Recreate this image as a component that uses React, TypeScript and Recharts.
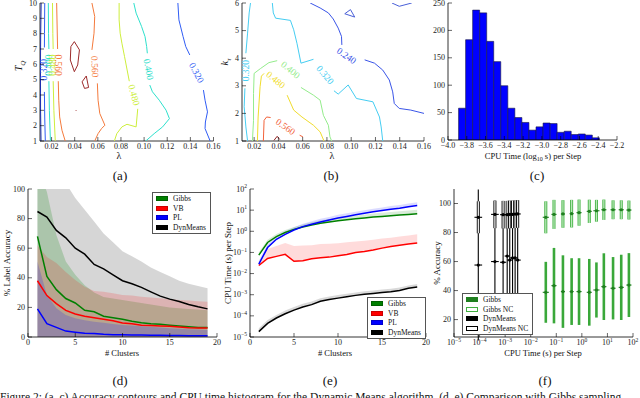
import React from "react";
import { ScatterChart, Scatter, ComposedChart, Area, Line, Bar, XAxis, YAxis, ErrorBar } from "recharts";

const FONT = "'Liberation Serif', 'Times New Roman', serif";
const INK = "#222";
const TICK_FS = 8;
const TM = 2;
const PAD = { l: 44, t: 6, r: 10, b: 22 };

// ---------- (a) accuracy contours, lambda vs T_Q ----------
const A_X_TICKS = [0.02, 0.04, 0.06, 0.08, 0.1, 0.12, 0.14, 0.16];
const A_Y_TICKS = [1, 2, 3, 4, 5, 6, 7, 8, 9, 10];
const A_DB = [[0.011, 10], [0.0106, 8], [0.0104, 6], [0.0105, 3], [0.0109, 1]];
const A_B_L1 = [[0.0141, 10], [0.0139, 8], [0.0138, 7.1]];
const A_B_L2 = [[0.0138, 4.2], [0.0141, 2.5], [0.0146, 1]];
const A_CY_L1 = [[0.0172, 10], [0.0174, 8], [0.0177, 7.0]];
const A_CY_L2 = [[0.0177, 4.9], [0.0181, 3], [0.019, 1]];
const A_YG_L1 = [[0.0208, 10], [0.0211, 8], [0.0214, 7.0]];
const A_YG_L2 = [[0.0214, 4.9], [0.022, 3], [0.0232, 1]];
const A_OR_L1 = [[0.0244, 10], [0.0248, 8.5], [0.0252, 7.0]];
const A_OR_L2 = [[0.0258, 4.9], [0.0262, 3.66], [0.027, 2.57], [0.029, 1.7], [0.0318, 1]];
const A_OR_R1 = [[0.0549, 10], [0.0573, 9.12], [0.0567, 8.03], [0.0549, 6.94]];
const A_OR_R2 = [[0.0596, 4.76], [0.0602, 3.66], [0.0617, 2.79], [0.0661, 2.03], [0.0632, 1.81], [0.0602, 1.48], [0.0573, 1]];
const A_YG_R1 = [[0.0784, 10], [0.0784, 8.9], [0.0793, 8.03], [0.0808, 7.38], [0.0831, 6.5], [0.0872, 4.9]];
const A_YG_R2 = [[0.0945, 3.1], [0.0931, 1.92], [0.0852, 2.09], [0.0808, 1.92], [0.0764, 1.48], [0.0743, 1]];
const A_CY_R1 = [[0.0911, 10], [0.0931, 9.34], [0.0978, 8.47], [0.1008, 7.81], [0.1022, 7.16], [0.1028, 6.72]];
const A_CY_R2 = [[0.1049, 4.65], [0.1072, 4.21], [0.1131, 3.66], [0.119, 3.01], [0.1219, 2.46], [0.116, 1.92], [0.1087, 1.48], [0.1014, 1]];
const A_B_R1 = [[0.1292, 10], [0.1301, 8.9], [0.1337, 7.81], [0.136, 7.16], [0.1395, 6.61]];
const A_B_R2 = [[0.1513, 4.32], [0.1527, 3.66], [0.1548, 2.9], [0.153, 2.24], [0.1527, 1.81], [0.1571, 1]];
const A_DR1 = [[0.0397, 7.48], [0.0441, 6.94], [0.0426, 5.96], [0.0397, 5.52], [0.0362, 6.28], [0.0367, 7.16], [0.0397, 7.48]];
const A_DR2 = [[0.05, 5.24], [0.052, 4.49], [0.0485, 4.43], [0.0464, 4.86], [0.05, 5.24]];
const A_DR3 = [[0.0408, 3.02], [0.0414, 2.97]];
const A_LABELS = [
  { x: 0.0138, y: 5.65, t: "0.320" },
  { x: 0.0177, y: 5.95, t: "0.400" },
  { x: 0.0214, y: 5.95, t: "0.480" },
  { x: 0.0255, y: 5.95, t: "0.560" },
  { x: 0.0573, y: 5.85, t: "0.560" },
  { x: 0.0911, y: 4.0, t: "0.480" },
  { x: 0.1037, y: 5.67, t: "0.400" },
  { x: 0.1452, y: 5.45, t: "0.320" },
];

const CA = { db: "#1d2fb0", b: "#2f5cf4", cy: "#2ee0cc", yg: "#cdee3c", or: "#f47a3c", dr: "#9c2b2b" };
const A_SEGMENTS: [number[][], string][] = [
  [A_DB, CA.db], [A_B_L1, CA.b], [A_B_L2, CA.b], [A_CY_L1, CA.cy], [A_CY_L2, CA.cy],
  [A_YG_L1, CA.yg], [A_YG_L2, CA.yg], [A_OR_L1, CA.or], [A_OR_L2, CA.or],
  [A_OR_R1, CA.or], [A_OR_R2, CA.or], [A_YG_R1, CA.yg], [A_YG_R2, CA.yg],
  [A_CY_R1, CA.cy], [A_CY_R2, CA.cy], [A_B_R1, CA.b], [A_B_R2, CA.b],
  [A_DR1, CA.dr], [A_DR2, CA.dr], [A_DR3, CA.dr],
];
const A_LABEL_STYLE: [number, string][] = [
  [-90, CA.b], [-90, CA.cy], [-90, CA.yg], [90, CA.or], [88, CA.or], [75, CA.yg], [80, CA.cy], [62, CA.b],
];

// ---------- (b) accuracy contours, lambda vs k_tau ----------
const B_Y_TICKS = [1, 2, 3, 4, 5, 6];
const B_DB1 = [[0.1336, 6], [0.1396, 5.88], [0.1499, 6]];
const B_DB2 = [[0.0947, 5.61], [0.0994, 5.76], [0.1029, 5.49], [0.0947, 5.61]];
const B_B1 = [[0.0662, 6], [0.0744, 5.82], [0.0812, 5.64], [0.0852, 5.42], [0.0893, 5.09], [0.092, 4.79], [0.0923, 4.48]];
const B_B2 = [[0.1111, 3.94], [0.1192, 3.82], [0.126, 3.57], [0.1314, 3.21], [0.1342, 2.78], [0.1355, 2.36], [0.1396, 2.18], [0.1491, 2.12], [0.16, 2.0]];
const B_CYL1 = [[0.017, 6], [0.0159, 5.64], [0.0146, 4.91], [0.0132, 4.18]];
const B_CYL2 = [[0.0124, 2.91], [0.0118, 2.24], [0.0132, 1.51], [0.0146, 1]];
const B_CYR1 = [[0.035, 6], [0.0358, 5.64], [0.0377, 5.45], [0.0499, 5.37], [0.0526, 5.03], [0.0553, 4.54], [0.0586, 3.82], [0.0689, 3.96]];
const B_CYR2 = [[0.0858, 2.82], [0.0893, 2.7], [0.0975, 3.03], [0.1043, 2.54], [0.1179, 2.42], [0.1233, 1.87], [0.1247, 1.51], [0.126, 1]];
const B_G1 = [[0.0186, 1], [0.0195, 1.75], [0.0195, 2.72], [0.02, 3.45], [0.0254, 3.63], [0.0322, 3.84], [0.039, 3.91]];
const B_G2 = [[0.0586, 2.94], [0.0689, 2.66], [0.0744, 2.48], [0.0771, 1.93], [0.0812, 1.57], [0.0825, 1.15], [0.0839, 1]];
const B_Y1 = [[0.0227, 1], [0.0233, 1.87], [0.0249, 2.97], [0.026, 3.35], [0.0282, 3.45]];
const B_Y2 = [[0.0472, 2.66], [0.0526, 2.12], [0.0594, 1.87], [0.0689, 1.57], [0.0744, 1.33], [0.0776, 1]];
const B_OR1 = [[0.0276, 1], [0.0282, 1.75], [0.0303, 1.87], [0.0336, 1.85]];
const B_OR2 = [[0.0575, 1.21], [0.0602, 1.15]];
const B_DR = [[0.0363, 1.02], [0.039, 1.17], [0.0412, 1.05]];
const B_LABELS = [
  { x: 0.0961, y: 4.08, t: "0.240" },
  { x: 0.0132, y: 3.55, t: "0.320" },
  { x: 0.0784, y: 3.39, t: "0.320" },
  { x: 0.0499, y: 3.57, t: "0.400" },
  { x: 0.0377, y: 3.21, t: "0.480" },
  { x: 0.0458, y: 1.51, t: "0.560" },
];

const CB = { db: "#4a60d8", b: "#3a55e8", cy: "#45cdf2", g: "#94ec8c", y: "#f0dc2c", or: "#f2623a", dr: "#962626" };
const B_SEGMENTS: [number[][], string][] = [
  [B_DB1, CB.db], [B_DB2, CB.db], [B_B1, CB.b], [B_B2, CB.b], [B_CYL1, CB.cy], [B_CYL2, CB.cy],
  [B_CYR1, CB.cy], [B_CYR2, CB.cy], [B_G1, CB.g], [B_G2, CB.g], [B_Y1, CB.y], [B_Y2, CB.y],
  [B_OR1, CB.or], [B_OR2, CB.or], [B_DR, CB.dr],
];
const B_LABEL_STYLE: [number, string][] = [
  [35, CB.b], [-90, CB.cy], [50, CB.cy], [40, CB.g], [40, CB.y], [35, CB.or],
];

// ---------- (c) histogram of CPU time ----------
const C_X_TICKS = [-4.0, -3.8, -3.6, -3.4, -3.2, -3.0, -2.8, -2.6, -2.4, -2.2];
const C_Y_TICKS = [0, 50, 100, 150, 200, 250];
const C_BINS = [-3.85, -3.775, -3.7, -3.625, -3.55, -3.475, -3.4, -3.325, -3.25, -3.175, -3.1, -3.025, -2.95, -2.875, -2.8, -2.725, -2.65, -2.575, -2.5, -2.425];
const C_COUNTS = [58, 183, 237, 232, 180, 143, 99, 58, 41, 32, 18, 24, 31, 30, 14, 16, 10, 11, 9, 4];

// ---------- (d) label accuracy vs # clusters ----------
const D_X = [1, 2, 3, 4, 5, 6, 7, 8, 9, 10, 11, 12, 13, 14, 15, 16, 17, 18, 19];
const D_X_TICKS = [0, 5, 10, 15, 20];
const D_Y_TICKS = [0, 20, 40, 60, 80, 100];
const D_GIBBS = [68, 41, 32, 26, 23, 18, 17, 14, 13, 12, 10.6, 9.7, 9, 8.6, 8, 7.5, 7, 6.5, 6.5];
const D_VB = [38, 28, 22.6, 18, 15.5, 14, 13, 12, 11, 9.5, 9, 8, 7.7, 7.5, 7.2, 6.8, 6.3, 6, 6];
const D_PL = [19, 9, 6.5, 4, 3.2, 2.5, 2.3, 1.8, 1.6, 1.5, 1.4, 1.3, 1.2, 1.1, 1.0, 1.0, 0.9, 0.9, 0.8];
const D_DYN = [84.8, 81, 72, 67, 60, 56, 49, 46, 42, 38, 36, 33.5, 30.5, 27.6, 25.6, 24, 22, 20.4, 19];
const D_GIBBS_HI = [115, 98, 69, 51, 42, 35, 30, 27, 26, 25, 24, 23, 22, 21, 20, 19.5, 19, 18.5, 18];
const D_VB_HI = [62, 54, 50, 44, 38.5, 34, 31, 30.5, 29.5, 28.4, 28, 27.2, 26.7, 26.1, 25.6, 25, 24.6, 24.2, 23.9];
const D_PL_HI = [51, 28.4, 19.4, 14.9, 12.6, 11.3, 10.3, 9.6, 8.8, 8.1, 7.7, 7.3, 6.9, 6.5, 5.9, 5.6, 5.3, 5.0, 4.7];
const D_DYN_HI = [115, 112, 108, 104, 94, 86, 78, 70, 64, 58, 54.5, 51, 47, 44, 41, 38, 36, 34.5, 33];

// ---------- (e) CPU time vs # clusters ----------
const E_Y_TICKS = [1e-5, 1e-4, 1e-3, 1e-2, 1e-1, 1, 10, 100];
const E_GIBBS = [0.075, 0.295, 0.56, 0.87, 1.23, 1.58, 2.0, 2.37, 2.75, 3.16, 3.55, 3.89, 4.27, 4.68, 5.0, 5.37, 5.89, 6.3, 6.76];
const E_GIBBS_HI = [0.1, 0.4, 0.75, 1.15, 1.6, 2.1, 2.7, 3.2, 3.8, 4.4, 5.0, 5.6, 6.2, 6.9, 7.5, 8.1, 8.9, 9.6, 10.3];
const E_PL = [0.028, 0.17, 0.42, 0.72, 1.15, 1.66, 2.14, 2.75, 3.39, 4.22, 5.0, 6.03, 7.08, 8.3, 9.5, 11.0, 12.3, 14.5, 16.6];
const E_PL_HI = [0.04, 0.25, 0.6, 1.0, 1.55, 2.3, 3.0, 3.9, 4.8, 6.0, 7.1, 8.5, 10.0, 11.7, 13.4, 15.5, 17.5, 20.5, 23.5];
const E_VB = [0.024, 0.052, 0.065, 0.081, 0.038, 0.04, 0.05, 0.056, 0.06, 0.069, 0.079, 0.1, 0.11, 0.13, 0.16, 0.19, 0.22, 0.25, 0.28];
const E_VB_HI = [0.034, 0.145, 0.2, 0.28, 0.2, 0.21, 0.22, 0.25, 0.26, 0.275, 0.3, 0.33, 0.36, 0.4, 0.46, 0.5, 0.56, 0.63, 0.72];
const E_DYN = [1.8e-5, 4.4e-5, 7.9e-5, 1.26e-4, 1.86e-4, 2.63e-4, 3.39e-4, 4.9e-4, 5.9e-4, 6.9e-4, 8.1e-4, 9.3e-4, 1.05e-3, 1.15e-3, 1.26e-3, 1.38e-3, 1.58e-3, 2.0e-3, 2.3e-3];
const E_DYN_HI = [2.6e-5, 6.3e-5, 1.1e-4, 1.8e-4, 2.6e-4, 3.7e-4, 4.8e-4, 6.8e-4, 8.2e-4, 9.6e-4, 1.12e-3, 1.29e-3, 1.45e-3, 1.6e-3, 1.75e-3, 1.92e-3, 2.2e-3, 2.75e-3, 3.2e-3];

// ---------- (f) accuracy vs CPU time (log10 s) ----------
const F_X_TICKS = [-5, -4, -3, -2, -1, 0, 1, 2];
const F_Y_TICKS = [20, 40, 60, 80, 100];
const F_GIBBS_X = [-1.41, -1.09, -0.74, -0.4, -0.11, 0.29, 0.57, 0.86, 1.22, 1.54, 1.84];
const F_GIBBS_XERR = [0.12, 0.1, 0.08, 0.08, 0.1, 0.1, 0.12, 0.1, 0.1, 0.1, 0.1];
const F_GIBBS_Y = [38.8, 43.4, 39.3, 39.3, 39.3, 38.8, 40.4, 42.7, 41.6, 42.2, 43.8];
const F_GIBBS_ERR = [21, 26, 25, 23, 23, 23, 19, 23, 21.5, 22.5, 22];
const F_GIBBS_NC_Y = [90.5, 92.5, 92.8, 93.0, 93.7, 94.6, 95.0, 95.7, 95.7, 95.7, 95.5];
const F_GIBBS_NC_ERR = [11, 10, 9.5, 9.5, 9, 8, 7.5, 7, 6.5, 6.5, 6.5];
const F_DYN_X = [-4.05, -3.4, -3.08, -2.92, -2.82, -2.71, -2.61, -2.51];
const F_DYN_XERR = [0.15, 0.15, 0.12, 0.1, 0.1, 0.1, 0.1, 0.12];
const F_DYN_Y = [57.6, 60.0, 59.5, 63.8, 61.0, 62.5, 62.5, 61.0];
const F_DYN_ERR = [52, 42, 42, 38, 40, 38, 38, 40];
const F_DYN_NC_Y = [90.5, 92.5, 92.3, 92.3, 92.5, 92.5, 92.7, 92.8];
const F_DYN_NC_ERR = [11, 9.5, 9.5, 9.5, 9.5, 9.5, 9.5, 9.5];

const RECT_A = { x0: 39.5, y0: 3, x1: 213, y1: 141 };
const RECT_B = { x0: 242, y0: 3, x1: 424, y1: 141 };
const RECT_C = { x0: 448, y0: 3, x1: 617, y1: 140 };
const RECT_D = { x0: 27.5, y0: 189, x1: 216.5, y1: 337 };
const RECT_E = { x0: 250, y0: 189, x1: 426, y1: 337 };
const RECT_F = { x0: 454, y0: 189, x1: 633, y1: 337 };

type Rect = { x0: number; y0: number; x1: number; y1: number };
type AxisCfg = { domain: [number, number]; ticks: number[]; scale?: "log" | "linear"; fmt: (v: number) => React.ReactNode; key?: string };

function frame(r: Rect) {
  return {
    style: { position: "absolute" as const, left: r.x0 - PAD.l, top: r.y0 - PAD.t },
    width: r.x1 - r.x0 + PAD.l + PAD.r,
    height: r.y1 - r.y0 + PAD.t + PAD.b,
    margin: { top: PAD.t, right: PAD.r, bottom: 0, left: 0 },
  };
}

const minus = (s: string) => s.replace("-", "\u2212");
const pow10 = (e: number) => (
  <>
    10<tspan dy={-3.3} fontSize={5.6}>{minus(String(e))}</tspan>
  </>
);

const bottomTick = (fmt: AxisCfg["fmt"]) => (p: any) => (
  <g>
    <line x1={p.x} x2={p.x} y1={p.y - TM} y2={p.y - TM - 4} stroke="#000" strokeWidth={0.6} />
    <text x={p.x} y={p.y} dy="0.78em" textAnchor="middle" fontSize={TICK_FS} fontFamily={FONT} fill={INK}>
      {fmt(p.payload.value)}
    </text>
  </g>
);
const leftTick = (fmt: AxisCfg["fmt"]) => (p: any) => (
  <g>
    <line x1={p.x + TM} x2={p.x + TM + 4} y1={p.y} y2={p.y} stroke="#000" strokeWidth={0.6} />
    <text x={p.x - 1} y={p.y} dy="0.33em" textAnchor="end" fontSize={TICK_FS} fontFamily={FONT} fill={INK}>
      {fmt(p.payload.value)}
    </text>
  </g>
);
const topTick = (p: any) => <line x1={p.x} x2={p.x} y1={p.y} y2={p.y + 4} stroke="#000" strokeWidth={0.6} />;
const rightTick = (p: any) => <line x1={p.x} x2={p.x - 4} y1={p.y} y2={p.y} stroke="#000" strokeWidth={0.6} />;

function frameAxes(xc: AxisCfg, yc: AxisCfg) {
  const common = {
    allowDataOverflow: true,
    tickLine: false,
    tickSize: 0,
    interval: 0 as const,
    axisLine: { stroke: "#000", strokeWidth: 0.8 },
  };
  return [
    <XAxis key="xb" dataKey="x" type="number" scale={xc.scale ?? "linear"} domain={xc.domain} ticks={xc.ticks}
      height={PAD.b} tickMargin={TM} tick={bottomTick(xc.fmt)} {...common} />,
    <XAxis key="xt" xAxisId="top" orientation="top" type="number" scale={xc.scale ?? "linear"} domain={xc.domain}
      ticks={xc.ticks} height={0} tickMargin={0} tick={topTick} {...common} />,
    <YAxis key="yl" dataKey={yc.key} type="number" scale={yc.scale ?? "linear"} domain={yc.domain} ticks={yc.ticks}
      width={PAD.l} tickMargin={TM} tick={leftTick(yc.fmt)} {...common} />,
    <YAxis key="yr" yAxisId="right" orientation="right" type="number" scale={yc.scale ?? "linear"} domain={yc.domain}
      ticks={yc.ticks} width={0} tickMargin={0} tick={rightTick} {...common} />,
  ];
}

const noDot = () => <g />;
const labelShape = (p: any) => (
  <text x={p.cx} y={p.cy} transform={`rotate(${p.payload.a} ${p.cx} ${p.cy})`} textAnchor="middle"
    dominantBaseline="central" fontSize={9.5} fontFamily={FONT} fill={p.payload.c}>
    {p.payload.t}
  </text>
);
const toXY = (pts: number[][]) => pts.map(([x, y]) => ({ x, y }));

function ContourPanel({ rect, segs, labels, styles, yTicks }: any) {
  const f = frame(rect);
  const labelData = labels.map((l: any, i: number) => ({ ...l, a: styles[i][0], c: styles[i][1] }));
  return (
    <div style={f.style}>
      <ScatterChart width={f.width} height={f.height} margin={f.margin}>
        {frameAxes(
          { domain: [0.01, 0.16], ticks: A_X_TICKS, fmt: (v) => v.toFixed(2) },
          { domain: [yTicks[0], yTicks[yTicks.length - 1]], ticks: yTicks, fmt: (v) => String(v), key: "y" }
        )}
        {segs.map(([pts, c]: [number[][], string], i: number) => (
          <Scatter key={i} data={toXY(pts)} fill={c} line={{ stroke: c, strokeWidth: 1 }} lineType="joint"
            shape={noDot} isAnimationActive={false} />
        ))}
        <Scatter data={labelData} shape={labelShape} isAnimationActive={false} />
      </ScatterChart>
    </div>
  );
}

function HistPanel() {
  const f = frame(RECT_C);
  const rows = C_BINS.map((x, i) => ({ x, n: C_COUNTS[i] }));
  return (
    <div style={f.style}>
      <ComposedChart width={f.width} height={f.height} margin={f.margin} data={rows} barCategoryGap={0} barGap={0}>
        {frameAxes(
          { domain: [-4.0, -2.2], ticks: C_X_TICKS, fmt: (v) => minus(v.toFixed(1)) },
          { domain: [0, 250], ticks: C_Y_TICKS, fmt: (v) => String(v) }
        )}
        <Bar dataKey="n" fill="#0000ff" stroke="#1a1a40" strokeWidth={0.6} isAnimationActive={false} />
      </ComposedChart>
    </div>
  );
}

function AccuracyPanel() {
  const f = frame(RECT_D);
  const rows = D_X.map((x, i) => ({
    x, gibbs: D_GIBBS[i], vb: D_VB[i], pl: D_PL[i], dyn: D_DYN[i],
    gibbsHi: D_GIBBS_HI[i], vbHi: D_VB_HI[i], plHi: D_PL_HI[i], dynHi: D_DYN_HI[i],
  }));
  return (
    <div style={f.style}>
      <ComposedChart width={f.width} height={f.height} margin={f.margin} data={rows}>
        {frameAxes(
          { domain: [0, 20], ticks: D_X_TICKS, fmt: (v) => String(v) },
          { domain: [0, 100], ticks: D_Y_TICKS, fmt: (v) => String(v) }
        )}
        <Area dataKey="dynHi" stroke="none" fill="#000" fillOpacity={0.16} isAnimationActive={false} />
        <Area dataKey="gibbsHi" stroke="none" fill="#008000" fillOpacity={0.2} isAnimationActive={false} />
        <Area dataKey="vbHi" stroke="none" fill="#ff0000" fillOpacity={0.16} isAnimationActive={false} />
        <Area dataKey="plHi" stroke="none" fill="#0000ff" fillOpacity={0.18} isAnimationActive={false} />
        <Line dataKey="gibbs" stroke="#008000" strokeWidth={1.5} dot={false} isAnimationActive={false} />
        <Line dataKey="vb" stroke="#ff0000" strokeWidth={1.5} dot={false} isAnimationActive={false} />
        <Line dataKey="pl" stroke="#0000ff" strokeWidth={1.5} dot={false} isAnimationActive={false} />
        <Line dataKey="dyn" stroke="#000" strokeWidth={1.5} dot={false} isAnimationActive={false} />
      </ComposedChart>
    </div>
  );
}

function TimePanel() {
  const f = frame(RECT_E);
  const rows = D_X.map((x, i) => ({
    x, gibbs: E_GIBBS[i], vb: E_VB[i], pl: E_PL[i], dyn: E_DYN[i],
    gibbsBand: [E_GIBBS[i], E_GIBBS_HI[i]], vbBand: [E_VB[i], E_VB_HI[i]],
    plBand: [E_PL[i], E_PL_HI[i]], dynBand: [E_DYN[i], E_DYN_HI[i]],
  }));
  return (
    <div style={f.style}>
      <ComposedChart width={f.width} height={f.height} margin={f.margin} data={rows}>
        {frameAxes(
          { domain: [0, 20], ticks: D_X_TICKS, fmt: (v) => String(v) },
          { domain: [1e-5, 100], ticks: E_Y_TICKS, scale: "log", fmt: (v) => pow10(Math.round(Math.log10(v))) }
        )}
        <Area dataKey="dynBand" stroke="none" fill="#000" fillOpacity={0.15} isAnimationActive={false} />
        <Area dataKey="gibbsBand" stroke="none" fill="#008000" fillOpacity={0.15} isAnimationActive={false} />
        <Area dataKey="vbBand" stroke="none" fill="#ff0000" fillOpacity={0.14} isAnimationActive={false} />
        <Area dataKey="plBand" stroke="none" fill="#0000ff" fillOpacity={0.14} isAnimationActive={false} />
        <Line dataKey="gibbs" stroke="#008000" strokeWidth={1.5} dot={false} isAnimationActive={false} />
        <Line dataKey="vb" stroke="#ff0000" strokeWidth={1.5} dot={false} isAnimationActive={false} />
        <Line dataKey="pl" stroke="#0000ff" strokeWidth={1.5} dot={false} isAnimationActive={false} />
        <Line dataKey="dyn" stroke="#000" strokeWidth={1.5} dot={false} isAnimationActive={false} />
      </ComposedChart>
    </div>
  );
}

const dotShape = (color: string) => (p: any) => <circle cx={p.cx} cy={p.cy} r={1.6} fill={color} />;

function ErrorPanel() {
  const f = frame(RECT_F);
  const gibbs = F_GIBBS_X.map((x, i) => ({ x, y: F_GIBBS_Y[i], ey: F_GIBBS_ERR[i], ex: F_GIBBS_XERR[i] }));
  const gibbsNC = F_GIBBS_X.map((x, i) => ({ x, y: F_GIBBS_NC_Y[i], ey: F_GIBBS_NC_ERR[i], ex: F_GIBBS_XERR[i] }));
  const dyn = F_DYN_X.map((x, i) => ({ x, y: F_DYN_Y[i], ey: F_DYN_ERR[i], ex: F_DYN_XERR[i] }));
  const dynNC = F_DYN_X.map((x, i) => ({ x, y: F_DYN_NC_Y[i], ey: F_DYN_NC_ERR[i], ex: F_DYN_XERR[i] }));
  return (
    <div style={f.style}>
      <ScatterChart width={f.width} height={f.height} margin={f.margin}>
        {frameAxes(
          { domain: [-5, 2], ticks: F_X_TICKS, fmt: (v) => pow10(v) },
          { domain: [8, 110], ticks: F_Y_TICKS, fmt: (v) => String(v), key: "y" }
        )}
        <Scatter data={dyn} shape={dotShape("#000")} isAnimationActive={false}>
          <ErrorBar dataKey="ey" direction="y" width={0} stroke="#000" strokeWidth={1.1} isAnimationActive={false} />
          <ErrorBar dataKey="ex" direction="x" width={0} stroke="#000" strokeWidth={1.1} isAnimationActive={false} />
        </Scatter>
        <Scatter data={dynNC} shape={dotShape("#000")} isAnimationActive={false}>
          <ErrorBar dataKey="ey" direction="y" width={0} stroke="#000" strokeWidth={3} isAnimationActive={false} />
          <ErrorBar dataKey="ey" direction="y" width={0} stroke="#fff" strokeWidth={1.2} isAnimationActive={false} />
          <ErrorBar dataKey="ex" direction="x" width={0} stroke="#000" strokeWidth={1.1} isAnimationActive={false} />
        </Scatter>
        <Scatter data={gibbs} shape={dotShape("#1f7f1f")} isAnimationActive={false}>
          <ErrorBar dataKey="ey" direction="y" width={0} stroke="#3aa83a" strokeWidth={2.6} isAnimationActive={false} />
          <ErrorBar dataKey="ex" direction="x" width={0} stroke="#1f7f1f" strokeWidth={1.1} isAnimationActive={false} />
        </Scatter>
        <Scatter data={gibbsNC} shape={dotShape("#1f7f1f")} isAnimationActive={false}>
          <ErrorBar dataKey="ey" direction="y" width={0} stroke="#40b040" strokeWidth={3} isAnimationActive={false} />
          <ErrorBar dataKey="ey" direction="y" width={0} stroke="#b8e8b8" strokeWidth={1.3} isAnimationActive={false} />
          <ErrorBar dataKey="ex" direction="x" width={0} stroke="#1f7f1f" strokeWidth={1.1} isAnimationActive={false} />
        </Scatter>
      </ScatterChart>
    </div>
  );
}

function Txt({ x, y, size = 9, rot = 0, children, style }: any) {
  return (
    <div style={{
      position: "absolute", left: x, top: y, transform: `translate(-50%, -50%) rotate(${rot}deg)`,
      fontSize: size, fontFamily: FONT, whiteSpace: "nowrap", lineHeight: 1, color: "#111", ...style,
    }}>
      {children}
    </div>
  );
}

function LegendBox({ x, y, items }: { x: number; y: number; items: [string, string, string][] }) {
  return (
    <div style={{
      position: "absolute", left: x, top: y, border: "1px solid #555", background: "#fff",
      padding: "1px 4px 1px 3px", fontFamily: FONT, fontSize: 7.5, lineHeight: "9.5px", color: "#111",
    }}>
      {items.map(([name, fill, edge]) => (
        <div key={name} style={{ display: "flex", alignItems: "center", whiteSpace: "nowrap" }}>
          <span style={{
            display: "inline-block", width: 12, height: 5, background: fill, border: `1px solid ${edge}`,
            boxSizing: "border-box", marginRight: 5,
          }} />
          {name}
        </div>
      ))}
    </div>
  );
}

const SERIES_LEGEND: [string, string, string][] = [
  ["Gibbs", "#008000", "#006000"], ["VB", "#ff0000", "#cc0000"], ["PL", "#0000ff", "#0000cc"], ["DynMeans", "#000", "#000"],
];
const F_LEGEND: [string, string, string][] = [
  ["Gibbs", "#1f7f1f", "#1f7f1f"], ["Gibbs NC", "#ffffff", "#40b040"], ["DynMeans", "#000", "#000"], ["DynMeans NC", "#fff", "#000"],
];

export default function App() {
  return (
    <div style={{ position: "absolute", left: 0, top: 0, width: 640, height: 398, overflow: "hidden", background: "#fff" }}>
      <ContourPanel rect={RECT_A} segs={A_SEGMENTS} labels={A_LABELS} styles={A_LABEL_STYLE} yTicks={A_Y_TICKS} />
      <ContourPanel rect={RECT_B} segs={B_SEGMENTS} labels={B_LABELS} styles={B_LABEL_STYLE} yTicks={B_Y_TICKS} />
      <HistPanel />
      <AccuracyPanel />
      <TimePanel />
      <ErrorPanel />

      <Txt x={20} y={66} size={10} rot={-90}><i>T</i><sub style={{ fontSize: 7 }}><i>Q</i></sub></Txt>
      <Txt x={119} y={156} size={10}>λ</Txt>
      <Txt x={120} y={175} size={13}>(a)</Txt>
      <Txt x={226} y={62} size={10} rot={-90}><i>k</i><sub style={{ fontSize: 7 }}><i>τ</i></sub></Txt>
      <Txt x={332} y={156} size={10}>λ</Txt>
      <Txt x={331} y={175} size={13}>(b)</Txt>
      <Txt x={533} y={157} size={8.5}>CPU Time (log<sub style={{ fontSize: 6 }}>10</sub> s) per Step</Txt>
      <Txt x={537} y={175} size={13}>(c)</Txt>

      <Txt x={7} y={263} size={9} rot={-90}>% Label Accuracy</Txt>
      <Txt x={122} y={353} size={8.5}># Clusters</Txt>
      <Txt x={120} y={380} size={13}>(d)</Txt>
      <Txt x={228} y={263} size={9} rot={-90}>CPU Time (s) per Step</Txt>
      <Txt x={335} y={353} size={8.5}># Clusters</Txt>
      <Txt x={330} y={380} size={13}>(e)</Txt>
      <Txt x={437} y={263} size={9} rot={-90}>% Accuracy</Txt>
      <Txt x={543} y={353} size={8.5}>CPU Time (s) per Step</Txt>
      <Txt x={545} y={380} size={13}>(f)</Txt>

      <LegendBox x={152} y={192} items={SERIES_LEGEND} />
      <LegendBox x={367} y={297} items={SERIES_LEGEND} />
      <LegendBox x={462} y={293} items={F_LEGEND} />

      <div style={{
        position: "absolute", left: 0, top: 391, fontSize: 11.5, fontFamily: FONT, whiteSpace: "nowrap",
        lineHeight: "12px", color: "#111",
      }}>
        Figure 2: (a–c) Accuracy contours and CPU time histogram for the Dynamic Means algorithm. (d–e) Comparison with Gibbs sampling
      </div>
    </div>
  );
}
